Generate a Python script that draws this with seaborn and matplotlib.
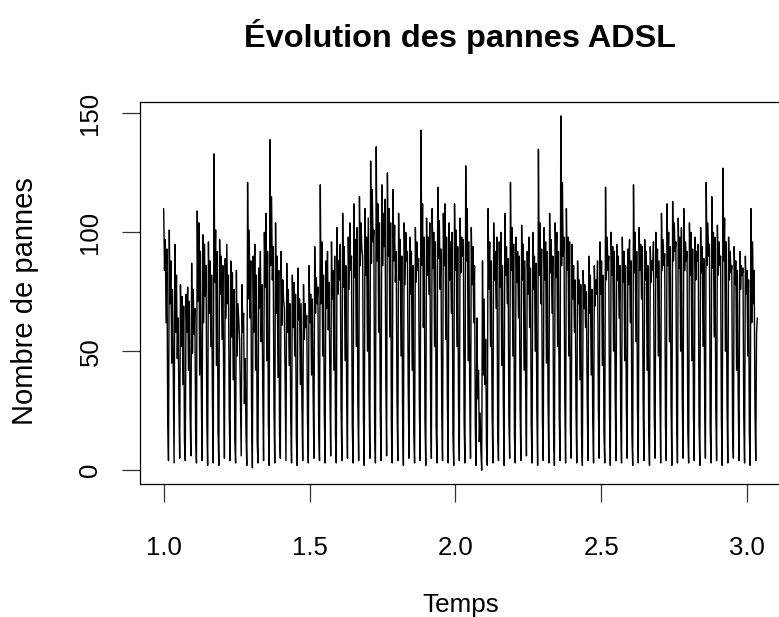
import numpy as np
import pandas as pd
import matplotlib
matplotlib.use("Agg")
import matplotlib.pyplot as plt
import seaborn as sns

# ---- Data: daily ADSL failures (ts, frequency 365, start 1) ----
debut = 1.0
frequence = 365

pannes_an1 = [
    110, 84, 97, 62, 93, 22, 4,
    101, 70, 88, 45, 76, 38, 3,
    95, 58, 82, 47, 64, 30, 5,
    78, 52, 73, 36, 69, 12, 4,
    74, 58, 77, 42, 71, 25, 6,
    87, 49, 76, 57, 68, 15, 3,
    109, 71, 104, 40, 92, 35, 4,
    99, 62, 95, 73, 86, 20, 2,
    96, 66, 88, 52, 82, 28, 3,
    133, 79, 101, 44, 92, 17, 2,
    97, 74, 90, 55, 86, 40, 5,
    89, 64, 95, 70, 82, 24, 4,
    88, 56, 83, 38, 76, 13, 3,
    84, 48, 70, 62, 55, 30, 6,
    78, 58, 66, 28, 47, 16, 2,
    121, 72, 101, 64, 88, 25, 1,
    90, 58, 95, 42, 82, 12, 3,
    85, 68, 92, 54, 78, 33, 4,
    100, 77, 108, 46, 92, 20, 2,
    139, 86, 115, 80, 94, 27, 3,
    104, 66, 90, 39, 84, 15, 5,
    92, 61, 80, 72, 68, 38, 4,
    87, 58, 76, 44, 70, 22, 3,
    82, 60, 79, 48, 74, 14, 2,
    85, 63, 72, 36, 70, 28, 4,
    78, 55, 70, 60, 65, 20, 3,
    86, 62, 74, 40, 72, 32, 5,
    94, 66, 81, 70, 77, 18, 4,
    120, 70, 96, 48, 82, 24, 3,
    88, 68, 92, 59, 79, 36, 6,
    96, 72, 84, 42, 90, 15, 3,
    102, 74, 88, 80, 95, 26, 4,
    108, 77, 94, 46, 86, 31, 5,
    98, 76, 104, 84, 90, 19, 3,
    112, 81, 97, 52, 102, 28, 4,
    115, 86, 104, 93, 90, 22, 2,
    110, 82, 98, 50, 106, 34, 5,
    130, 87, 118, 96, 101, 20, 3,
    136, 88, 112, 58, 104, 26, 4,
    120, 86, 108, 94, 114, 38, 6,
    125, 90, 110, 56, 104, 17, 3,
    118, 88, 103, 79, 92, 29, 4,
    108, 80, 97, 48, 90, 23, 2,
    104, 78, 100, 88, 92, 35, 5,
    98, 74, 92, 42, 86, 16, 3,
    102, 79, 96, 84, 89, 27, 4,
    143, 86, 112, 60, 98, 21, 2,
    106, 82, 98, 74, 104, 32, 5,
    110, 85, 100, 52, 96, 18, 3,
    119, 89, 105, 76, 93, 24, 4,
    108, 86, 112, 55, 98, 30, 3,
    104, 80, 96, 66, 100, 15, 2,
]

pannes_an2 = [
    112, 84, 101, 52, 94, 26, 4,
    106, 83, 98, 90, 97, 20, 3,
    128, 88, 110, 46, 96, 33, 5,
    102, 78, 94, 62, 86, 18, 2,
    64, 30, 42, 12, 24, 8, 0,
    88, 40, 72, 36, 55, 10, 2,
    110, 76, 96, 52, 88, 25, 3,
    104, 80, 92, 68, 98, 17, 4,
    96, 77, 100, 44, 86, 30, 2,
    108, 82, 94, 70, 89, 22, 5,
    121, 84, 102, 48, 95, 14, 3,
    98, 79, 92, 64, 90, 28, 4,
    103, 80, 95, 42, 88, 35, 6,
    92, 74, 98, 60, 85, 19, 3,
    100, 76, 90, 50, 87, 26, 2,
    135, 82, 104, 70, 93, 21, 4,
    102, 80, 96, 45, 92, 31, 3,
    108, 83, 97, 66, 90, 16, 2,
    104, 81, 100, 52, 92, 24, 4,
    149, 86, 121, 90, 98, 29, 3,
    110, 84, 98, 48, 96, 18, 5,
    95, 72, 86, 58, 80, 26, 3,
    88, 70, 80, 38, 78, 14, 2,
    84, 68, 78, 60, 75, 32, 4,
    90, 66, 82, 40, 76, 20, 3,
    86, 69, 80, 74, 88, 27, 5,
    96, 74, 88, 44, 82, 16, 3,
    119, 80, 98, 84, 90, 24, 2,
    100, 82, 94, 50, 92, 34, 4,
    95, 80, 90, 64, 86, 21, 3,
    98, 79, 92, 46, 86, 28, 5,
    93, 78, 97, 62, 88, 15, 2,
    120, 83, 100, 54, 92, 25, 3,
    102, 84, 95, 72, 94, 30, 4,
    97, 80, 92, 42, 86, 17, 2,
    94, 79, 88, 84, 96, 23, 5,
    100, 81, 93, 48, 88, 36, 3,
    108, 84, 97, 86, 91, 19, 4,
    112, 86, 100, 54, 94, 27, 2,
    113, 88, 104, 92, 96, 22, 3,
    106, 85, 98, 50, 102, 31, 5,
    110, 84, 96, 88, 92, 16, 3,
    104, 82, 100, 46, 93, 25, 4,
    98, 80, 92, 88, 95, 20, 2,
    102, 83, 94, 52, 89, 33, 5,
    121, 86, 104, 90, 95, 18, 3,
    115, 85, 100, 56, 98, 26, 4,
    103, 82, 96, 86, 90, 21, 2,
    127, 88, 106, 50, 96, 29, 3,
    98, 80, 92, 83, 86, 17, 5,
    94, 78, 88, 42, 84, 32, 4,
    92, 76, 86, 82, 85, 22, 3,
]

pannes_fin = [
    90, 74, 84, 48, 80, 15, 2,
    110, 62, 96, 70, 84, 26, 4,
    58, 64,
]

titre = "Évolution des pannes ADSL"
xlabel = "Temps"
ylabel = "Nombre de pannes"
xticks = [1.0, 1.5, 2.0, 2.5, 3.0]
xtick_labels = ["1.0", "1.5", "2.0", "2.5", "3.0"]
yticks = [0, 50, 100, 150]
ytick_labels = ["0", "50", "100", "150"]

valeurs = pannes_an1 + pannes_an2 + pannes_fin
temps = debut + np.arange(len(valeurs)) / frequence
df = pd.DataFrame({"Temps": temps, "Pannes": valeurs})

# ---- Style ----
sns.set_theme(style="ticks")
plt.rcParams["font.family"] = ["Liberation Sans", "DejaVu Sans"]

W, H = 779, 617
fig = plt.figure(figsize=(W / 100, H / 100), dpi=100)
fig.patch.set_facecolor("white")

left_px, right_px, top_px, bottom_px = 139.95, 781.1, 101.7, 484.3
ax = fig.add_axes([left_px / W, 1 - bottom_px / H,
                   (right_px - left_px) / W, (bottom_px - top_px) / H])
ax.set_facecolor("white")

sns.lineplot(data=df, x="Temps", y="Pannes", color="black", linewidth=1.0,
             ax=ax, estimator=None, sort=False)

# R-like 4% padding
tmin, tmax = temps[0], temps[-1]
dx = 0.04 * (tmax - tmin)
ymin, ymax = min(valeurs), max(valeurs)
dy = 0.04 * (ymax - ymin)
ax.set_xlim(tmin - dx, tmax + dx)
ax.set_ylim(ymin - dy, ymax + dy)

for s in ax.spines.values():
    s.set_visible(True)
    s.set_color("black")
    s.set_linewidth(0.9)

ax.set_xticks(xticks)
ax.set_xticklabels(xtick_labels)
ax.set_yticks(yticks)
ax.set_yticklabels(ytick_labels, rotation=90, va="center")
ax.tick_params(axis="both", direction="out", length=13, width=0.9,
               color="#333333", labelsize=18.5, labelcolor="black")
ax.tick_params(axis="x", pad=24)
ax.tick_params(axis="y", pad=14)

ax.set_xlabel(xlabel, fontsize=18.7, color="black")
ax.xaxis.set_label_coords(0.5, -0.3338)
ax.xaxis.label.set_va("baseline")
ax.set_ylabel(ylabel, fontsize=21, color="black")
ax.yaxis.set_label_coords(-0.1793, 0.48)
ax.yaxis.label.set_va("center")

fig.text(460 / W, 1 - 47 / H, titre, ha="center", va="baseline",
         fontsize=23.4, fontweight="bold", color="black")

fig.savefig("out.png", dpi=100, facecolor="white")
